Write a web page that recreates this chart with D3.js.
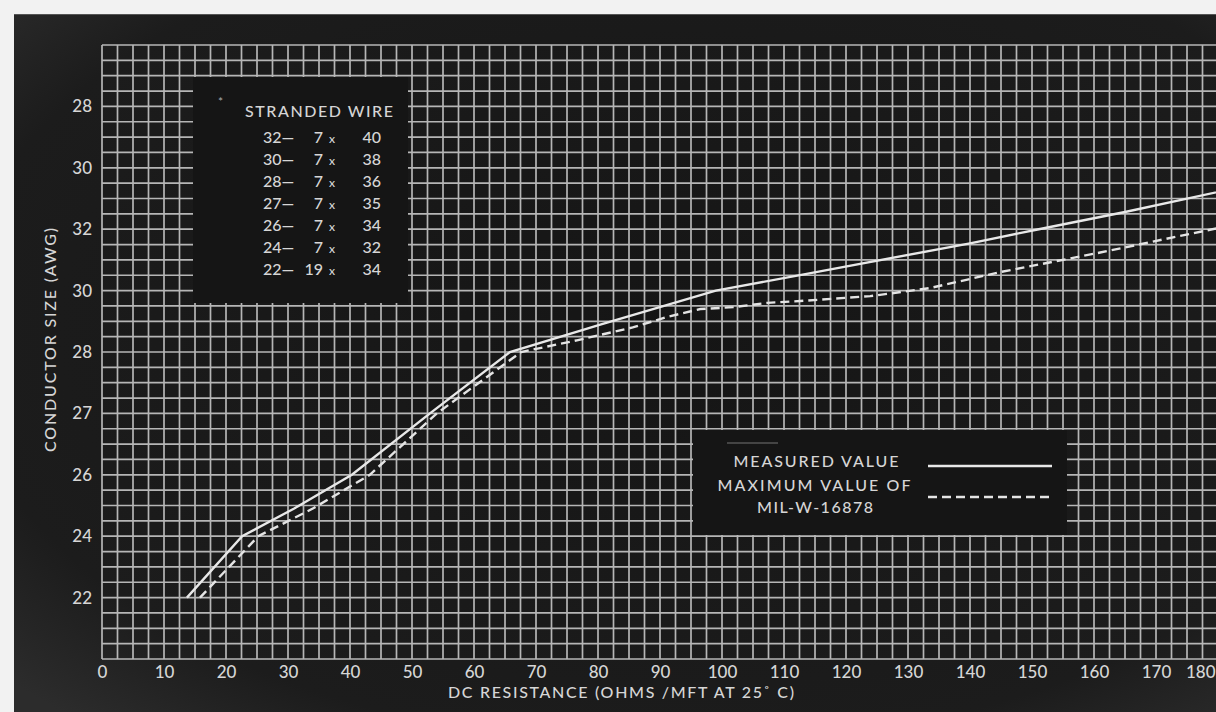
<!DOCTYPE html>
<html><head><meta charset="utf-8">
<script src="https://cdn.jsdelivr.net/npm/d3@7"></script>
<style>html,body{margin:0;padding:0;background:#f2f2f2;}svg{display:block;}</style>
</head><body>
<svg id="chart" width="1216" height="712"></svg>
<script>
// ---- data ----
const xTicks = [0,10,20,30,40,50,60,70,80,90,100,110,120,130,140,150,160,170,180];
const yTickPos = [0,1,2,3,4,5,6,7,8];
const yTickLabels = ["22","24","26","27","28","30","32","30","28"];
// measured value (resistance, grid position)
const measuredR   = [13.7, 22.6, 31.0, 40.3, 52.9, 65.8, 80.5, 99.0, 113.0, 140.0, 151.1, 165.0, 182.0];
const measuredPos = [0,    1.0,  1.45, 2.0,  3.0,  4.0,  4.45, 5.0,  5.26,  5.77,  6.0,   6.28,  6.65];
// maximum value of MIL-W-16878
const maxR   = [15.8, 25.2, 34.0, 43.2, 54.0, 67.6, 76.6, 85.6, 91.1, 96.5, 101.8, 107.3, 112.6, 123.9, 133.5, 144.8, 161.0, 182.0];
const maxPos = [0,    1.0,  1.45, 2.0,  3.0,  4.0,  4.19, 4.4,  4.57, 4.7,  4.73,  4.8,   4.83,  4.91,  5.04,  5.3,   5.62,  6.06];
// stranded wire table
const strandGauge = ["32\u2014","30\u2014","28\u2014","27\u2014","26\u2014","24\u2014","22\u2014"];
const strandCount = ["7","7","7","7","7","7","19"];
const strandSize  = ["40","38","36","35","34","32","34"];
const legendLabels = ["MEASURED VALUE","MAXIMUM VALUE OF","MIL-W-16878"];

const W = 1216, H = 712;
const svg = d3.select("#chart");
const FONT = "Lato, 'Open Sans', sans-serif";
const TXT = "#d6d6d6";

// page + dark photo card
svg.append("rect").attr("width",W).attr("height",H).attr("fill","#f2f2f2");
const defs = svg.append("defs");
const rg = defs.append("radialGradient").attr("id","vig").attr("cx","55%").attr("cy","45%").attr("r","75%");
rg.append("stop").attr("offset","0%").attr("stop-color","#151515");
rg.append("stop").attr("offset","80%").attr("stop-color","#1c1c1c");
rg.append("stop").attr("offset","100%").attr("stop-color","#2c2c2c");
svg.append("rect").attr("x",14).attr("y",14).attr("width",W-14).attr("height",H-14).attr("fill","url(#vig)");
svg.append("line").attr("x1",14).attr("x2",W).attr("y1",14.5).attr("y2",14.5).attr("stroke","#555").attr("stroke-width",1);

// scales
const x = d3.scaleLinear().domain([0,180]).range([102,1218]);
const y = d3.scaleLinear().domain([-1,9]).range([659,45]);

defs.append("clipPath").attr("id","plot").append("rect")
  .attr("x",x(0)).attr("y",y(9)).attr("width",W-x(0)).attr("height",y(-1)-y(9));

// grid
const grid = svg.append("g").attr("stroke","#c4c4c4").attr("stroke-width",1.7).attr("opacity",0.92);
const xs = d3.range(0,186,2.5).filter(v => x(v) <= W+1);
grid.selectAll("line.v").data(xs).join("line").attr("class","v")
  .attr("x1",d=>x(d)).attr("x2",d=>x(d)).attr("y1",y(9)).attr("y2",y(-1));
const ys = d3.range(-1,9.001,0.25);
grid.selectAll("line.h").data(ys).join("line").attr("class","h")
  .attr("x1",x(0)).attr("x2",W).attr("y1",d=>y(d)).attr("y2",d=>y(d));

// axes (labels only)
const yAxis = svg.append("g").attr("transform",`translate(${x(0)},0)`)
  .call(d3.axisLeft(y).tickValues(yTickPos).tickFormat((d,i)=>yTickLabels[i]).tickSize(0).tickPadding(10));
const xAxis = svg.append("g").attr("transform",`translate(0,${y(-1)})`)
  .call(d3.axisBottom(x).tickValues(xTicks).tickFormat(d3.format("d")).tickSize(0).tickPadding(7));
[yAxis,xAxis].forEach(a=>{
  a.select(".domain").remove();
  a.selectAll("text").attr("fill",TXT).attr("font-family",FONT).attr("font-size",17).attr("font-weight",500);
});
// last x label sits at the photo's right edge
xAxis.selectAll(".tick").filter(d=>d===180).select("text").attr("text-anchor","end").attr("x",W-x(180)-1);

// axis titles
svg.append("text").attr("x",621).attr("y",698).attr("text-anchor","middle")
  .attr("fill",TXT).attr("font-family",FONT).attr("font-size",16).attr("font-weight",500)
  .attr("textLength",346).attr("lengthAdjust","spacing")
  .text("DC RESISTANCE (OHMS /MFT AT 25\u02DA C)");
svg.append("text").attr("transform","translate(56,340) rotate(-90)").attr("text-anchor","middle")
  .attr("fill",TXT).attr("font-family",FONT).attr("font-size",16).attr("font-weight",500)
  .attr("textLength",224).attr("lengthAdjust","spacing")
  .text("CONDUCTOR SIZE (AWG)");

// curves
const line = d3.line().x(d=>x(d[0])).y(d=>y(d[1]));
const curves = svg.append("g").attr("clip-path","url(#plot)").attr("fill","none");
curves.append("path").datum(maxR.map((r,i)=>[r,maxPos[i]]))
  .attr("d",line).attr("stroke","#e4e4e4").attr("stroke-width",2.4).attr("stroke-dasharray","9,5");
curves.append("path").datum(measuredR.map((r,i)=>[r,measuredPos[i]]))
  .attr("d",line).attr("stroke","#e8e8e8").attr("stroke-width",2.4);

// stranded wire panel
svg.append("rect").attr("x",193).attr("y",77).attr("width",215).attr("height",226).attr("fill","#151515");
svg.append("text").attr("x",218).attr("y",106).attr("fill","#aaa").attr("font-family",FONT).attr("font-size",12).text("*");
svg.append("text").attr("x",245).attr("y",117).attr("fill",TXT).attr("font-family",FONT)
  .attr("font-size",16).attr("font-weight",500).attr("textLength",148).attr("lengthAdjust","spacing").text("STRANDED WIRE");
const rows = svg.append("g").attr("font-family",FONT).attr("font-size",16).attr("fill",TXT).attr("font-weight",500);
strandGauge.forEach((g,i)=>{
  const by = 143 + i*22;
  rows.append("text").attr("x",263).attr("y",by).text(g);
  rows.append("text").attr("x",323).attr("y",by).attr("text-anchor","end").text(strandCount[i]);
  rows.append("text").attr("x",329).attr("y",by).attr("font-size",12).text("x");
  rows.append("text").attr("x",381).attr("y",by).attr("text-anchor","end").text(strandSize[i]);
});

// legend panel
svg.append("rect").attr("x",693).attr("y",430).attr("width",374).attr("height",105).attr("fill","#151515");
svg.append("line").attr("x1",727).attr("x2",778).attr("y1",443).attr("y2",443).attr("stroke","#555").attr("stroke-width",1.5);
const lg = svg.append("g").attr("font-family",FONT).attr("font-size",16).attr("fill",TXT).attr("font-weight",500).attr("text-anchor","middle");
lg.append("text").attr("x",816).attr("y",467).attr("textLength",165).attr("lengthAdjust","spacing").text(legendLabels[0]);
lg.append("text").attr("x",814).attr("y",491).attr("textLength",193).attr("lengthAdjust","spacing").text(legendLabels[1]);
lg.append("text").attr("x",815).attr("y",513).attr("textLength",116).attr("lengthAdjust","spacing").text(legendLabels[2]);
svg.append("line").attr("x1",928).attr("x2",1052).attr("y1",466).attr("y2",466).attr("stroke","#e8e8e8").attr("stroke-width",2.4);
svg.append("line").attr("x1",928).attr("x2",1052).attr("y1",497).attr("y2",497).attr("stroke","#e4e4e4").attr("stroke-width",2.4).attr("stroke-dasharray","9,5");
</script>
</body></html>
